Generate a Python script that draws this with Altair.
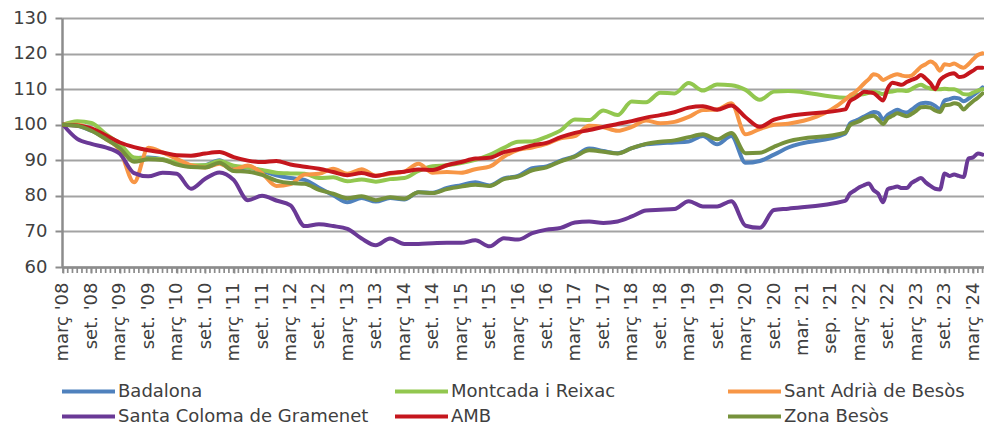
import json
import altair as alt
import pandas as pd

# Index (base 100 = March 2008). Quarterly points up to Dec 2020, then monthly from Dec 2021.
MONTHS = list(range(0, 154, 3)) + list(range(165, 195))  # months since March 2008

SERIES = ["Badalona", "Montcada i Reixac", "Sant Adrià de Besòs",
          "Santa Coloma de Gramenet", "AMB", "Zona Besòs"]
COLORS = ["#4f81bd", "#92c74f", "#f79646", "#6a3996", "#c5161d", "#76923c"]
WIDTHS = [4, 4, 4, 4, 7, 7]

BADALONA = [100, 99.7, 98.3, 96.2, 93.8, 90.6, 90.8, 90.3, 89.0, 88.3, 88.6, 90.0, 87.5,
            88.0, 87.0, 85.8, 85.0, 84.5, 82.3, 80.2, 78.2, 79.4, 78.4, 79.4, 79.0, 81.0,
            80.9, 82.2, 83.0, 83.8, 82.9, 84.9, 85.6, 87.8, 88.3, 89.9, 91.2, 93.3, 92.6,
            92.0, 93.4, 94.5, 94.8, 95.0, 95.3, 96.8, 94.5, 96.8, 89.3, 89.8, 91.6, 93.6,
            97.5, 100.3, 101.0, 101.6, 102.3, 103.0, 103.6, 103.3, 101.5, 102.8, 103.6,
            104.2, 103.7, 103.4, 104.2, 105.2, 106.0, 106.2, 106.0, 105.3, 104.3, 106.8,
            107.2, 107.6, 107.4, 106.6, 107.3, 108.3, 109.3, 110.5]
MONTCADA = [100, 101.0, 100.5, 97.4, 94.6, 90.8, 90.5, 90.3, 89.3, 88.6, 88.6, 89.8, 88.5,
            88.0, 87.3, 86.5, 86.3, 86.2, 85.0, 85.2, 84.1, 84.6, 84.0, 84.7, 85.0, 87.0,
            88.3, 88.6, 89.2, 90.1, 91.5, 93.5, 95.2, 95.3, 96.6, 98.4, 101.5, 101.3, 104.0,
            102.7, 106.5, 106.3, 109.0, 108.8, 111.7, 109.6, 111.3, 111.1, 109.8, 107.0,
            109.3, 109.5,
            107.6, 107.9, 108.2, 108.4, 108.6, 109.0, 109.3, 109.0, 108.6, 109.2, 109.3,
            109.6, 109.6, 109.5, 110.0, 110.8, 111.2, 110.6, 110.2, 110.0, 110.0, 110.1,
            110.0, 110.0, 109.4, 108.6, 108.5, 109.0, 109.6, 110.0]
SANT_ADRIA = [100, 100, 98.5, 96.0, 92.8, 83.8, 93.5, 92.2, 90.4, 88.6, 88.0, 89.0, 87.4,
              88.5, 86.3, 82.8, 83.3, 86.0, 86.2, 87.6, 86.2, 87.5, 85.7, 86.2, 86.8, 89.0,
              86.5, 86.7, 86.5, 87.5, 88.2, 91.0, 92.9, 93.6, 94.6, 96.2, 96.8, 99.7, 99.3,
              98.3, 99.4, 101.2, 100.4, 100.8, 102.2, 104.1, 104.3, 106.0, 97.3, 98.8,
              100.0, 100.3,
              107.0, 108.2, 109.0, 110.2, 111.6, 112.8, 114.2, 113.8, 112.6, 113.2, 113.8,
              114.2, 113.8, 113.6, 113.8, 115.0, 116.3, 117.0, 117.8, 117.0, 115.2, 117.0,
              116.8, 117.2, 116.5, 116.0, 117.0, 118.4, 119.6, 120.1]
SANTA_COLOMA = [100, 96.0, 94.6, 93.6, 91.8, 86.4, 85.5, 86.5, 86.2, 82.0, 84.8, 86.6, 84.5,
                78.8, 80.0, 78.7, 77.3, 71.5, 72.0, 71.5, 70.7, 68.0, 66.1, 68.0, 66.5, 66.5,
                66.7, 66.8, 66.8, 67.5, 65.8, 68.1, 67.7, 69.5, 70.5, 71.0, 72.5, 72.8, 72.4,
                72.8, 74.2, 75.9, 76.1, 76.3, 78.5, 77.0, 77.0, 78.5, 71.6, 71.0, 76.0, 76.4,
                78.6, 80.6, 81.5, 82.4, 83.0, 83.5, 81.6, 80.6, 78.2, 81.9, 82.3, 82.6, 82.2,
                82.2, 83.6, 84.4, 85.0, 83.8, 82.8, 82.0, 81.8, 86.3, 85.6, 86.0, 85.6, 85.3,
                90.5, 90.8, 91.9, 91.6]
AMB = [100, 99.8, 99.0, 97.0, 95.0, 93.7, 92.8, 92.2, 91.4, 91.3, 91.9, 92.3, 90.9, 89.9,
       89.5, 89.8, 88.8, 88.2, 87.6, 86.7, 85.8, 86.4, 85.6, 86.4, 86.8, 87.4, 87.3, 88.6,
       89.5, 90.5, 90.7, 92.3, 93.1, 94.2, 94.9, 96.5, 97.7, 98.5, 99.4, 100.2, 101.0, 102.0,
       102.7, 103.5, 104.8, 105.2, 104.2, 105.4, 102.1, 99.4, 101.4, 102.4,
       104.3, 106.6, 107.4, 108.3, 109.3, 109.1, 108.9, 107.8, 106.8, 110.2, 111.8, 111.5,
       111.2, 112.0, 112.6, 113.1, 114.0, 113.0, 111.7, 110.0, 112.5, 113.6, 114.2, 114.5,
       113.4, 113.6, 114.4, 115.2, 116.0, 116.0]
ZONA_BESOS = [100, 99.7, 98.3, 96.0, 93.4, 89.6, 90.3, 90.1, 88.8, 88.1, 88.0, 89.3, 87.0,
              86.8, 85.9, 84.3, 83.6, 83.4, 81.7, 80.6, 79.3, 79.9, 78.8, 79.6, 79.2, 81.0,
              80.8, 81.9, 82.6, 83.1, 82.8, 84.7, 85.4, 87.2, 88.0, 89.7, 91.0, 92.8, 92.4,
              91.9, 93.4, 94.6, 95.2, 95.6, 96.5, 97.3, 95.9, 97.7, 92.0, 92.1, 93.8, 95.3,
              97.8, 99.8, 100.5, 101.0, 101.8, 102.3, 102.5, 101.5, 100.2, 101.8, 102.5,
              103.2, 102.8, 102.4, 103.0, 103.9, 104.9, 105.0, 104.8, 104.0, 103.6, 105.5,
              105.6, 106.0, 105.7, 104.3, 105.5, 106.6, 107.6, 108.8]

TICK_LABELS = ["març '08", "set. '08", "març '09", "set. '09", "març '10", "set. '10",
               "març '11", "set. '11", "març '12", "set. '12", "març '13", "set. '13",
               "març '14", "set. '14", "març '15", "set. '15", "març '16", "set. '16",
               "març '17", "set. '17", "març '18", "set. '18", "març '19", "set. '19",
               "març '20", "set. '20", "mar. '21", "sep. '21", "març '22", "set. '22",
               "març '23", "set. '23", "març '24"]
TICK_MONTHS = list(range(0, 193, 6))
MINOR_MONTHS = list(range(0, 195))

VALUES = [BADALONA, MONTCADA, SANT_ADRIA, SANTA_COLOMA, AMB, ZONA_BESOS]
rows = []
for name, vals in zip(SERIES, VALUES):
    for m, v in zip(MONTHS, vals):
        rows.append({"serie": name, "mes": m, "index": v})
df = pd.DataFrame(rows)
minor = pd.DataFrame({"mes": MINOR_MONTHS})

FONT = "DejaVu Sans"
TXT = "#404040"
GRAY = "#8c8c8c"

label_expr = json.dumps(TICK_LABELS, ensure_ascii=False) + "[round(datum.value/6)]"

xscale = alt.Scale(domain=[-0.21, 194.3], nice=False, zero=False)
x_axis = alt.Axis(values=TICK_MONTHS, title=None, grid=False, labelExpr=label_expr,
                  labelAngle=-90, labelFontSize=18, labelFont=FONT, labelColor=TXT,
                  labelPadding=9, tickSize=6, tickWidth=1.7, tickColor=GRAY,
                  domainColor=GRAY, domainWidth=2.5, labelOverlap=False, labelFlush=False)

lines = alt.Chart(df).mark_line(interpolate="monotone", clip=True, strokeCap="round",
                                strokeJoin="round").encode(
    x=alt.X("mes:Q", scale=xscale, axis=x_axis),
    y=alt.Y("index:Q", scale=alt.Scale(domain=[60, 130], nice=False, zero=False),
            axis=alt.Axis(values=list(range(60, 131, 10)), title=None,
                          gridColor="#a3a3a3", gridWidth=2, tickSize=7, tickWidth=2,
                          tickColor=GRAY, domainColor=GRAY, domainWidth=2.5,
                          labelFontSize=18, labelFont=FONT, labelColor=TXT,
                          labelPadding=8)),
    color=alt.Color("serie:N", sort=SERIES,
                    scale=alt.Scale(domain=SERIES, range=COLORS),
                    legend=alt.Legend(orient="none", direction="horizontal",
                                      legendX=-2, legendY=361, columns=3,
                                      title=None, symbolType="stroke", symbolSize=2809,
                                      symbolStrokeWidth=4.5, labelFontSize=18,
                                      labelFont=FONT, labelColor=TXT, clipHeight=25,
                                      columnPadding=24, rowPadding=0, gridAlign="all",
                                      labelOffset=1, padding=0, labelLimit=400)),
    strokeWidth=alt.StrokeWidth("serie:N", sort=SERIES,
                                scale=alt.Scale(domain=SERIES, range=WIDTHS), legend=None),
)

ticks = alt.Chart(minor).mark_rule(color=GRAY, strokeWidth=1.7).encode(
    x=alt.X("mes:Q", scale=xscale, axis=x_axis),
    y=alt.value(249),
    y2=alt.value(255),
)

chart = alt.layer(lines, ticks).properties(
    width=922, height=249,
    autosize=alt.AutoSizeParams(type="none"),
    padding={"left": 54, "top": 10, "right": 0, "bottom": 160},
    background="white",
).configure_view(stroke=None)

chart.save("out.html", embed_options={"renderer": "svg", "actions": False})
